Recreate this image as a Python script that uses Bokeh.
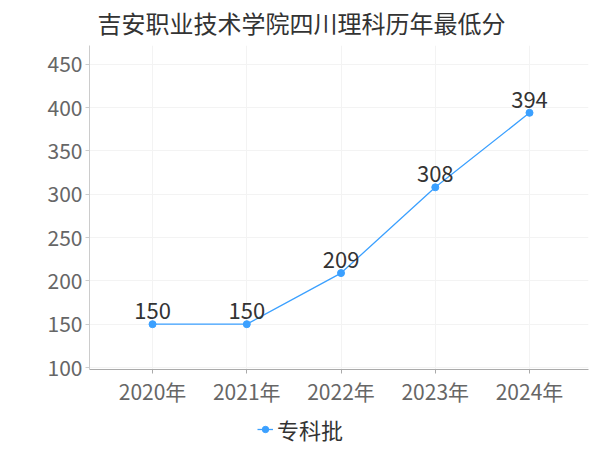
from bokeh.plotting import figure
from bokeh.layouts import column
from bokeh.models import ColumnDataSource, FixedTicker, Range1d, Legend, LegendItem
from bokeh.embed import file_html
from bokeh.resources import INLINE
from bokeh.core.properties import value

title_text = "吉安职业技术学院四川理科历年最低分"
years = ["2020年", "2021年", "2022年", "2023年", "2024年"]
scores = [150, 150, 209, 308, 394]
series_name = "专科批"
y_ticks = [100, 150, 200, 250, 300, 350, 400, 450]

FONT = "Noto Sans CJK SC"
COLOR = "#3ba0ff"

idx = list(range(len(years)))
src = ColumnDataSource(dict(x=idx, y=scores, label=[str(v) for v in scores]))

p = figure(width=592, height=408, output_backend="svg", toolbar_location=None,
           x_range=Range1d(-0.669, 4.626), y_range=Range1d(97.7, 471.7),
           min_border_left=89, min_border_right=4, min_border_top=44, min_border_bottom=37)
p.outline_line_color = None
p.background_fill_color = "white"
p.border_fill_color = "white"

p.title.text = title_text
p.title.align = "left"
p.title.offset = 8
p.title.vertical_align = "top"
p.title.standoff = 8
p.title.text_font = FONT
p.title.text_font_size = "24px"
p.title.text_font_style = "normal"
p.title.text_color = "#333333"

# axes
p.xaxis.ticker = FixedTicker(ticks=idx)
p.xaxis.major_label_overrides = {i: years[i] for i in idx}
p.yaxis.ticker = FixedTicker(ticks=y_ticks)
for ax, col in ((p.xaxis, "#aaaaaa"), (p.yaxis, "#cccccc")):
    ax.axis_line_color = col
    ax.major_tick_line_color = col
    ax.major_tick_out = 4
    ax.major_tick_in = 0
    ax.minor_tick_line_color = None
    ax.major_label_text_font = FONT
    ax.major_label_text_font_size = "21px"
    ax.major_label_text_color = "#666666"
p.yaxis.major_label_standoff = 3
p.xaxis.major_label_standoff = 2

p.xgrid.grid_line_color = "#f3f3f3"
p.ygrid.grid_line_color = "#f3f3f3"

p.line("x", "y", source=src, line_color=COLOR, line_width=1.3)
p.scatter("x", "y", source=src, size=7, fill_color=COLOR, line_color=COLOR)

p.text("x", "y", text="label", source=src, text_align="center", text_baseline="alphabetic",
       y_offset=-13, text_font=value(FONT), text_font_size="22px", text_color="#333333")

# legend strip below the chart; its renderers share the series data and styling
# (their marks fall outside this strip's range, so only the legend glyph shows)
leg = figure(width=592, height=40, output_backend="svg", toolbar_location=None,
             x_axis_type=None, y_axis_type=None,
             x_range=Range1d(-0.669, 4.626), y_range=Range1d(0, 1),
             min_border_left=0, min_border_right=0, min_border_top=0, min_border_bottom=0)
leg.outline_line_color = None
leg.background_fill_color = "white"
leg.border_fill_color = "white"
lr_line = leg.line("x", "y", source=src, line_color=COLOR, line_width=1.3)
lr_pts = leg.scatter("x", "y", source=src, size=7, fill_color=COLOR, line_color=COLOR)

legend = Legend(items=[LegendItem(label=series_name, renderers=[lr_line, lr_pts])],
                location=(168, 3), orientation="horizontal", padding=0, margin=0,
                border_line_color=None, background_fill_alpha=0,
                label_text_font=FONT, label_text_font_size="22px", label_text_color="#333333",
                glyph_width=16, glyph_height=20, label_standoff=4)
leg.add_layout(legend)

layout = column(p, leg, spacing=0)
open("out.html", "w").write(file_html(layout, INLINE))
